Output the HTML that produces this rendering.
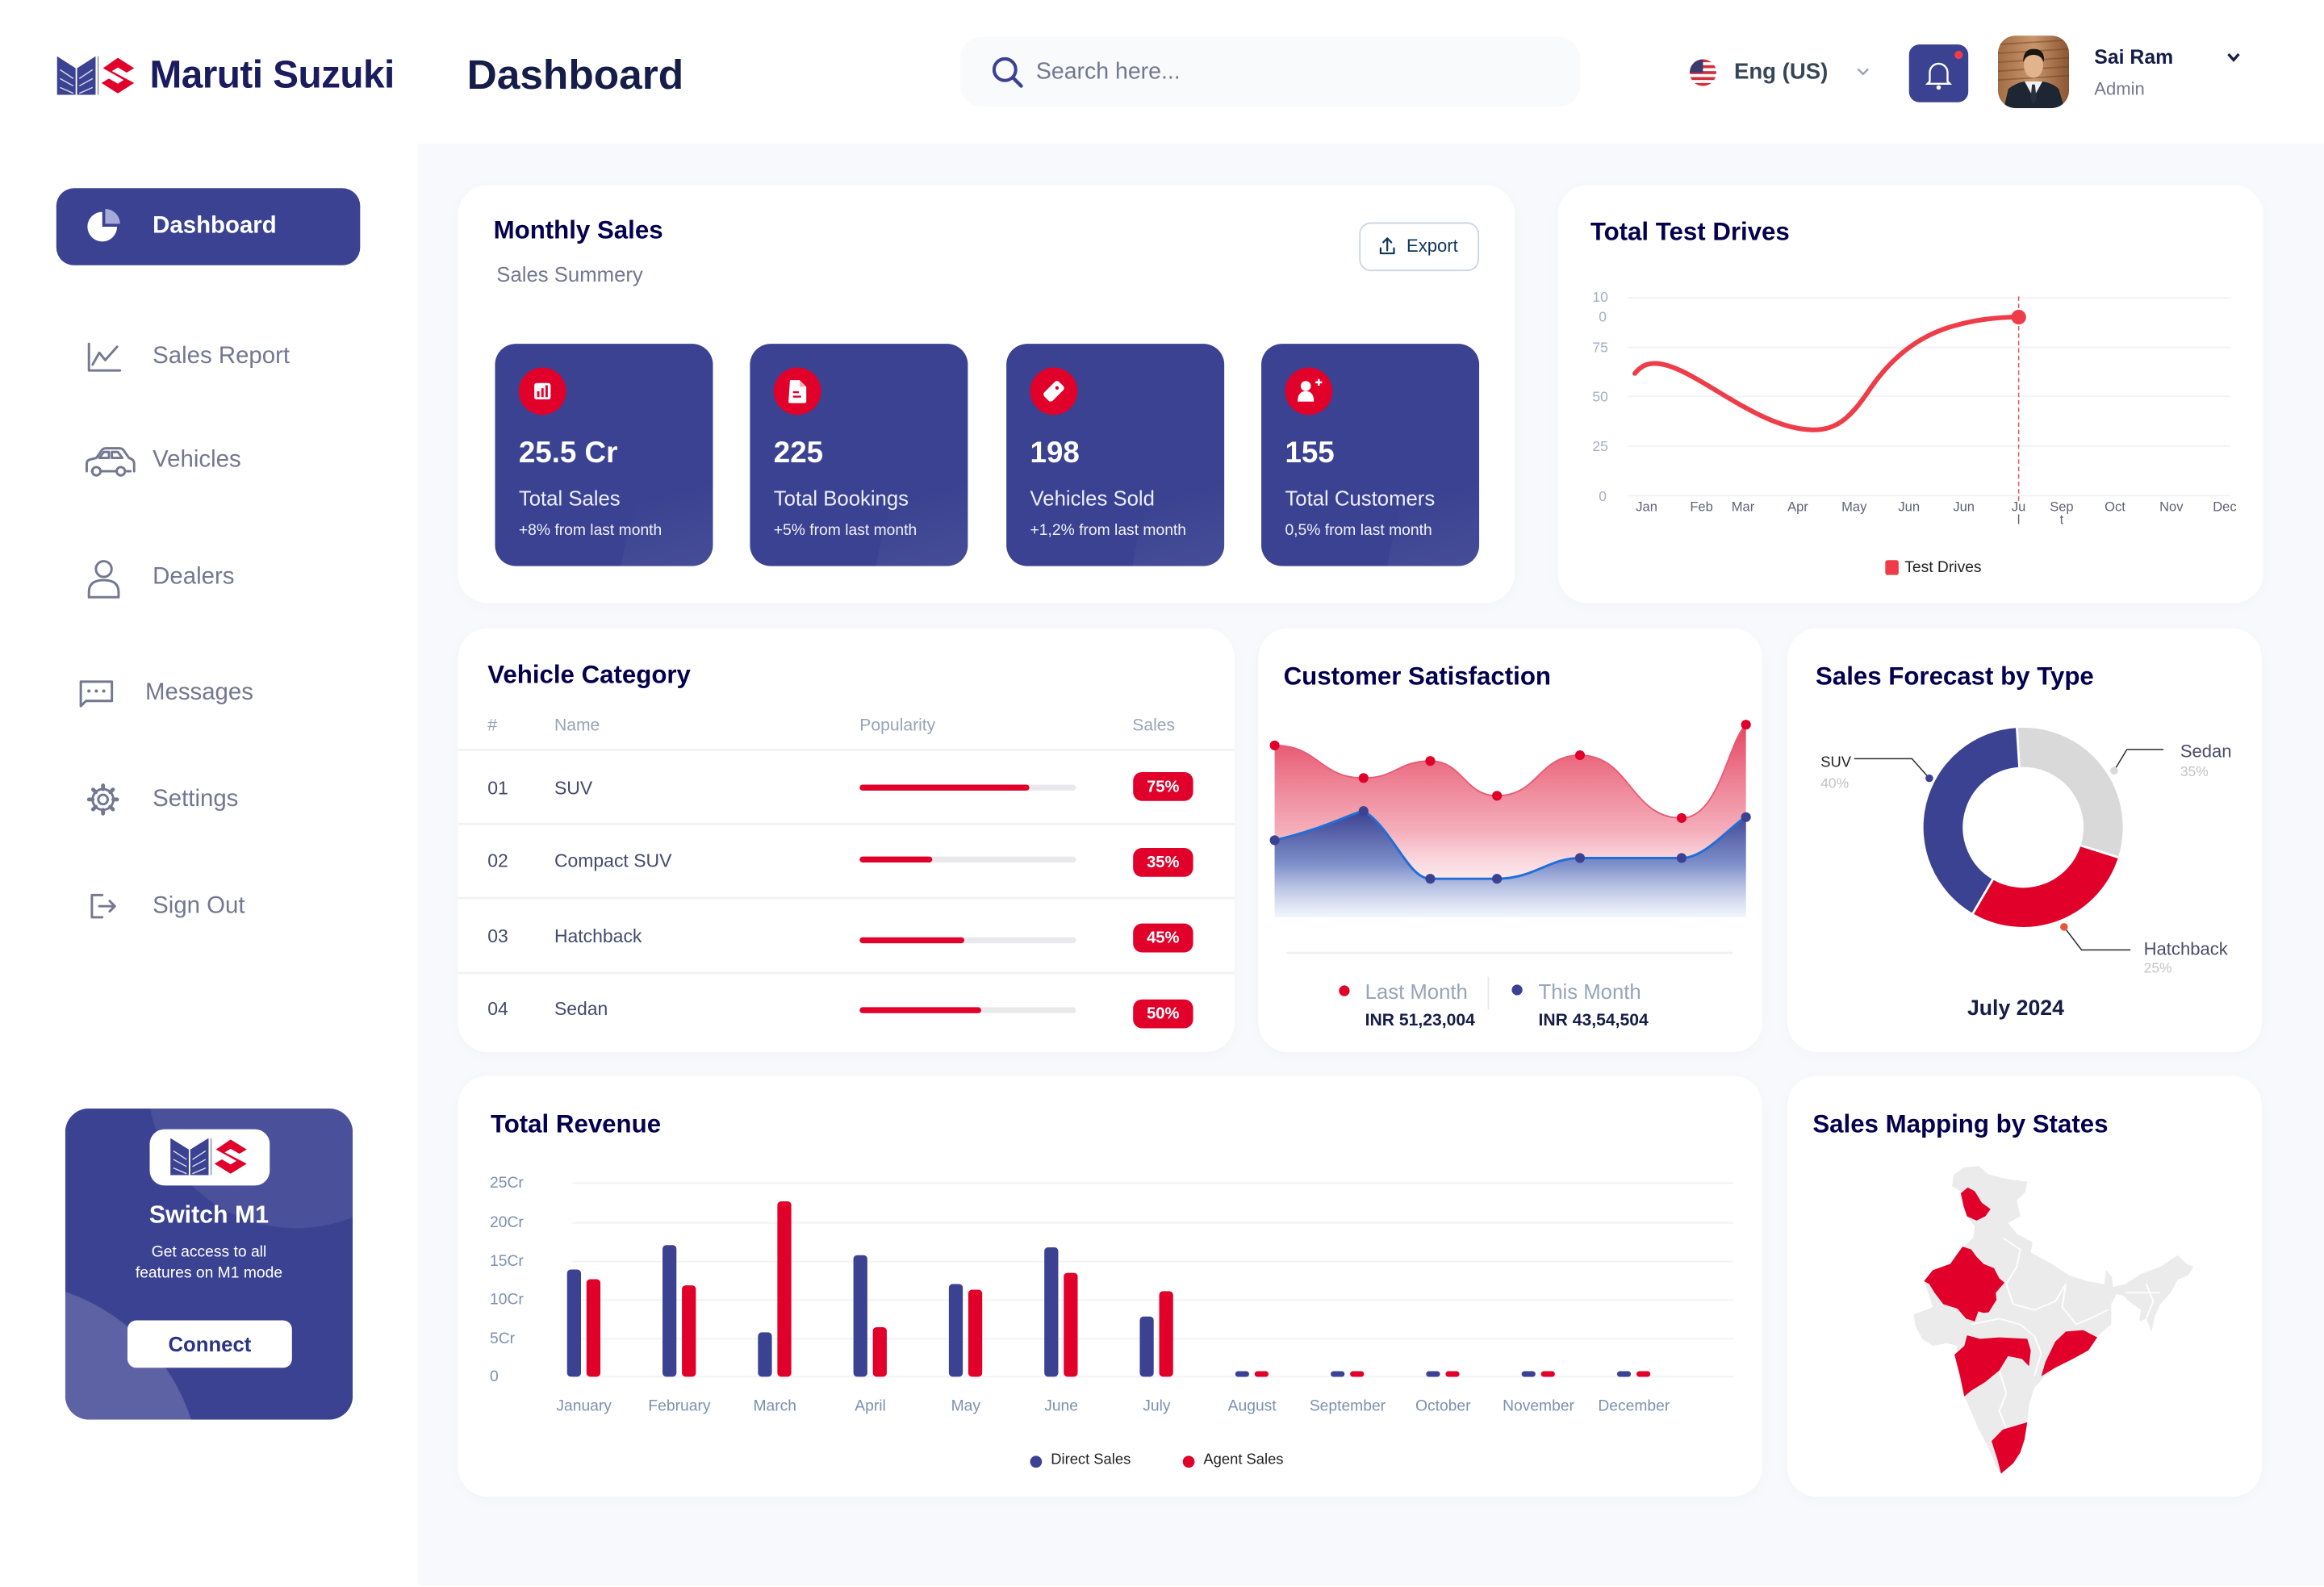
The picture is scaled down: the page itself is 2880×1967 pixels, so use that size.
<!DOCTYPE html>
<html><head><meta charset="utf-8">
<style>
html,body{margin:0;padding:0;width:2880px;height:1967px;overflow:hidden;}
body{background:#fff;font-family:"Liberation Sans",Arial,sans-serif;position:relative;}
#root{position:absolute;left:0;top:0;width:1568px;height:1070.5px;transform:scale(1.836735);transform-origin:0 0;background:#fff;overflow:hidden;}
.abs{position:absolute;}
.t{position:absolute;white-space:nowrap;line-height:20px;height:20px;}
.card{position:absolute;background:#fff;border-radius:20px;box-shadow:0 2px 10px rgba(40,50,90,0.025);}
.stat{position:absolute;top:232px;width:147px;height:150px;border-radius:14px;background:#3b4291;overflow:hidden;}
.stat .deco{position:absolute;left:82px;top:40px;width:170px;height:300px;border-radius:50%;background:linear-gradient(165deg,rgba(255,255,255,0) 20%,rgba(255,255,255,0.12) 55%,rgba(255,255,255,0.26) 95%);}
.title{font-weight:bold;font-size:17px;color:#05004e;}
.side{font-size:16px;color:#737791;}
</style></head>
<body>
<div id="root">
  <div class="abs" style="left:282px;top:97px;width:1286px;height:973px;background:#f7f9fc;"></div>
  <div class="abs" style="left:648px;top:25px;width:418px;height:47px;background:#f9fafb;border-radius:14px;"></div>
  <div class="abs" style="left:38px;top:127px;width:205px;height:52px;background:#3b4291;border-radius:12px;"></div>

  <div class="abs" style="left:44px;top:748px;width:194px;height:210px;border-radius:16px;overflow:hidden;background:radial-gradient(circle 101px at 156px -20px, rgba(255,255,255,0.08) 99.5%, rgba(255,255,255,0) 100%),radial-gradient(circle 136px at -44px 252px, rgba(255,255,255,0.17) 99.5%, rgba(255,255,255,0) 100%),#3b4291;">
    <div class="abs" style="left:57px;top:14px;width:81px;height:38px;background:#fff;border-radius:10px;"></div>
    <div class="abs" style="left:42px;top:143px;width:111px;height:32px;background:#fff;border-radius:6px;"></div>
  </div>

  <div class="card" style="left:309px;top:125px;width:713px;height:282px;"></div>
  <div class="card" style="left:1051px;top:125px;width:476px;height:282px;"></div>
  <div class="card" style="left:309px;top:424px;width:524px;height:286px;"></div>
  <div class="card" style="left:849px;top:424px;width:340px;height:286px;"></div>
  <div class="card" style="left:1206px;top:424px;width:320px;height:286px;"></div>
  <div class="card" style="left:309px;top:726px;width:880px;height:284px;"></div>
  <div class="card" style="left:1206px;top:726px;width:320px;height:284px;"></div>

  <div class="abs" style="left:917px;top:150px;width:79px;height:31px;border:1px solid #c9d6e3;border-radius:8px;"></div>

  <div class="stat" style="left:334px;"><div class="deco"></div></div>
  <div class="stat" style="left:506px;"><div class="deco"></div></div>
  <div class="stat" style="left:679px;"><div class="deco"></div></div>
  <div class="stat" style="left:851px;"><div class="deco"></div></div>

  <svg class="abs" style="left:0;top:0" width="1568" height="1060" viewBox="0 0 1568 1060">
    <defs>
      <linearGradient id="gRed" x1="0" y1="0" x2="0" y2="1">
        <stop offset="0" stop-color="#e23a57" stop-opacity="0.95"/>
        <stop offset="0.55" stop-color="#f08a9c" stop-opacity="0.7"/>
        <stop offset="1" stop-color="#ffffff" stop-opacity="0.2"/>
      </linearGradient>
      <linearGradient id="gBlue" x1="0" y1="0" x2="0" y2="1">
        <stop offset="0" stop-color="#3b4291"/>
        <stop offset="0.5" stop-color="#6f86c8" stop-opacity="0.9"/>
        <stop offset="1" stop-color="#e8f0fb" stop-opacity="0.6"/>
      </linearGradient>
      <linearGradient id="gAv" x1="0" y1="0" x2="1" y2="0">
        <stop offset="0" stop-color="#a26d45"/>
        <stop offset="0.5" stop-color="#c9966c"/>
        <stop offset="1" stop-color="#8a5532"/>
      </linearGradient>
    </defs>

    <g transform="translate(38.5,38)">
      <polygon points="0,0 12.5,8 12.5,26 0,26" fill="#3b4291"/>
      <polygon points="13.5,8 26,0 26,26 13.5,26" fill="#3b4291"/>
      <g stroke="#ffffff" stroke-width="0.8" opacity="0.8">
        <line x1="2" y1="9" x2="11" y2="15"/><line x1="2" y1="15" x2="11" y2="20"/><line x1="2" y1="21" x2="11" y2="25"/>
        <line x1="15" y1="15" x2="24" y2="9"/><line x1="15" y1="20" x2="24" y2="15"/><line x1="15" y1="25" x2="24" y2="21"/>
      </g>
      <line x1="27.7" y1="0" x2="27.7" y2="26" stroke="#8a8fa8" stroke-width="0.8"/>
      <path d="M31,8 L41,1 L52,8 L47,11 L41,7.5 L37,10 L52,18 L41,25 L30,18 L35,15 L41,18.5 L45,16 Z" fill="#e0002a"/>
    </g>

    <circle cx="678" cy="47" r="7.3" fill="none" stroke="#3b4291" stroke-width="2.2"/>
    <line x1="683.5" y1="52.5" x2="689" y2="58" stroke="#3b4291" stroke-width="2.4" stroke-linecap="round"/>

    <clipPath id="fc"><circle cx="1149" cy="49" r="9"/></clipPath>
    <g clip-path="url(#fc)">
      <rect x="1140" y="40" width="18" height="18" fill="#fff"/>
      <rect x="1140" y="40" width="18" height="2" fill="#d22f3c"/>
      <rect x="1140" y="44" width="18" height="2" fill="#d22f3c"/>
      <rect x="1140" y="48" width="18" height="2" fill="#d22f3c"/>
      <rect x="1140" y="52" width="18" height="2" fill="#d22f3c"/>
      <rect x="1140" y="56" width="18" height="2" fill="#d22f3c"/>
      <rect x="1140" y="40" width="9" height="9" fill="#3c3b6e"/>
    </g>
    <polyline points="1253.5,46.5 1257,50 1260.5,46.5" fill="none" stroke="#9aa0b4" stroke-width="1.3"/>

    <rect x="1288" y="30" width="40" height="39" rx="7" fill="#3b4291"/>
    <path d="M1302,55 v-6 a6,6 0 0 1 12,0 v6 l1.5,1.5 h-15 z" fill="none" stroke="#fff" stroke-width="1.3"/>
    <circle cx="1308" cy="59" r="1.5" fill="#fff"/>
    <circle cx="1321.5" cy="37" r="2.8" fill="#ef3b4d"/>

    <clipPath id="avc"><rect x="1348" y="24" width="48" height="49" rx="12"/></clipPath>
    <g clip-path="url(#avc)">
      <rect x="1348" y="24" width="48" height="49" fill="url(#gAv)"/>
      <g stroke="#6b3e22" stroke-width="1" opacity="0.45">
        <line x1="1348" y1="30" x2="1396" y2="27"/><line x1="1348" y1="36" x2="1396" y2="33"/>
        <line x1="1348" y1="42" x2="1396" y2="39"/><line x1="1348" y1="48" x2="1396" y2="45"/>
        <line x1="1348" y1="54" x2="1396" y2="51"/>
      </g>
      <path d="M1352,73 L1355,60 Q1360,56 1366,55 L1378,55 Q1385,56 1389,60 L1393,73 Z" fill="#1e2634"/>
      <path d="M1366,55 L1372,66 L1378,55 Z" fill="#f1f1f1"/>
      <path d="M1371,57 L1373,57 L1374,67 L1372,70 L1370,67 Z" fill="#2a2f3d"/>
      <ellipse cx="1372" cy="44" rx="6.5" ry="8.5" fill="#e2b48e"/>
      <path d="M1365,42 Q1365,33 1372,33 Q1380,33 1379,42 Q1377,37 1372,37 Q1367,37 1365,42 Z" fill="#1d1712"/>
    </g>
    <polyline points="1503.5,36.5 1507,40.5 1510.5,36.5" fill="none" stroke="#151d48" stroke-width="1.8"/>

    <path d="M69,153 V143 A10,10 0 1 0 79,153 Z" fill="#fff"/>
    <path d="M71,151 V141 A10,10 0 0 1 81,151 Z" fill="#a6aadb"/>
    <g fill="none" stroke="#737791" stroke-width="1.6" stroke-linecap="round" stroke-linejoin="round">
      <path d="M60,232 V250 H81"/>
      <path d="M62.5,246 L67,238 L71,243 L79,234"/>
      <path d="M58.5,318 v-5 q0-2.5 2.5-3 l4-1 l3.5-5 q1-1.5 3-1.5 h9 q2 0 3 1.5 l3.5,5 q3.5,1 3.5,4 v5"/>
      <path d="M62,318 h0.5 M68,318 h10 M85.5,318 h2.5"/>
      <circle cx="65" cy="318" r="2.8"/><circle cx="81.5" cy="318" r="2.8"/>
      <path d="M67,309 l3-4 h3.5 v4 z M75.5,305 h4 l3,4 h-7 z"/>
      <circle cx="70" cy="384" r="5.3"/>
      <path d="M60,403 v-3.5 q0-8 10-8 q10,0 10,8 v3.5 z"/>
      <path d="M54.5,460 h21 v13 h-17.5 l-3.5,3.5 z"/>
      <circle cx="69.5" cy="539.5" r="3.2"/>
      <circle cx="69.5" cy="539.5" r="7"/>
      <path d="M69.5,530 v2.5 M69.5,546.5 v2.5 M60,539.5 h2.5 M76.5,539.5 h2.5 M62.8,532.8 l1.8,1.8 M74.4,544.4 l1.8,1.8 M62.8,546.2 l1.8,-1.8 M74.4,534.6 l1.8,-1.8" stroke-width="2.6"/>
      <path d="M69,604 h-7 v15 h7"/>
      <path d="M67,611.5 h10.5 M74,608 l3.5,3.5 l-3.5,3.5"/>
    </g>
    <g fill="#737791"><circle cx="60" cy="466.3" r="1.1"/><circle cx="65" cy="466.3" r="1.1"/><circle cx="70" cy="466.3" r="1.1"/></g>

    <g transform="translate(115,768) scale(0.99,0.96)">
      <polygon points="0,0 12.5,8 12.5,26 0,26" fill="#3b4291"/>
      <polygon points="13.5,8 26,0 26,26 13.5,26" fill="#3b4291"/>
      <g stroke="#ffffff" stroke-width="0.8" opacity="0.8">
        <line x1="2" y1="9" x2="11" y2="15"/><line x1="2" y1="15" x2="11" y2="20"/><line x1="2" y1="21" x2="11" y2="25"/>
        <line x1="15" y1="15" x2="24" y2="9"/><line x1="15" y1="20" x2="24" y2="15"/><line x1="15" y1="25" x2="24" y2="21"/>
      </g>
      <line x1="27.7" y1="0" x2="27.7" y2="26" stroke="#8a8fa8" stroke-width="0.8"/>
      <path d="M31,8 L41,1 L52,8 L47,11 L41,7.5 L37,10 L52,18 L41,25 L30,18 L35,15 L41,18.5 L45,16 Z" fill="#e0002a"/>
    </g>

    <g fill="none" stroke="#0f3659" stroke-width="1.2" stroke-linecap="round" stroke-linejoin="round">
      <path d="M931.5,167.5 v3.5 h9 v-3.5"/>
      <path d="M936,169 v-8 M933.3,163.5 l2.7,-2.7 l2.7,2.7"/>
    </g>

    <circle cx="366" cy="264" r="16" fill="#e0002a"/>
    <rect x="360.5" y="258.5" width="11" height="11" rx="1.5" fill="#fff"/>
    <rect x="362.4" y="264" width="1.6" height="4" fill="#e0002a"/>
    <rect x="365.2" y="262" width="1.6" height="6" fill="#e0002a"/>
    <rect x="368" y="260" width="1.6" height="8" fill="#e0002a"/>

    <circle cx="538" cy="264" r="16" fill="#e0002a"/>
    <path d="M533,256.5 h6.5 l4.5,4.5 v10 q0,1 -1,1 h-10 q-1,0 -1,-1 z" fill="#fff"/>
    <path d="M539.5,256.5 v4.5 h4.5" fill="#f7b0bc"/>
    <rect x="535" y="264" width="4" height="1.3" fill="#e0002a"/>
    <rect x="535" y="267" width="5.5" height="1.3" fill="#e0002a"/>

    <circle cx="711" cy="264" r="16" fill="#e0002a"/>
    <g transform="rotate(45 711 264)">
      <rect x="707" y="257" width="8" height="14" rx="2" fill="#fff"/>
    </g>
    <circle cx="713.2" cy="261.8" r="1.2" fill="#e0002a"/>

    <circle cx="883" cy="264" r="16" fill="#e0002a"/>
    <circle cx="881" cy="260.5" r="3.4" fill="#fff"/>
    <path d="M875.5,271 q0,-7 5.5,-7 q5.5,0 5.5,7 z" fill="#fff"/>
    <path d="M887.5,258 h4.5 M889.75,255.75 v4.5" stroke="#fff" stroke-width="1.4"/>

    <g stroke="#f1f2f5" stroke-width="1">
      <line x1="1098" y1="201" x2="1505" y2="201"/>
      <line x1="1098" y1="234.5" x2="1505" y2="234.5"/>
      <line x1="1098" y1="267.5" x2="1505" y2="267.5"/>
      <line x1="1098" y1="301" x2="1505" y2="301"/>
      <line x1="1098" y1="334.5" x2="1505" y2="334.5"/>
    </g>
    <g font-family="Liberation Sans, Arial, sans-serif" font-size="9.5" fill="#a3aec8" text-anchor="end" dominant-baseline="central">
      <text x="1085" y="200.5">10</text>
      <text x="1084" y="213.6">0</text>
      <text x="1085" y="234.5">75</text>
      <text x="1085" y="267.5">50</text>
      <text x="1085" y="301">25</text>
      <text x="1084" y="334.8">0</text>
    </g>
    <line x1="1362" y1="200" x2="1362" y2="340" stroke="#f0505e" stroke-width="0.8" stroke-dasharray="3 2"/>
    <path d="M1103,252 C1108,246 1113,244.5 1120,245.5 C1145,249 1185,289 1222,290 C1240,291 1250,280 1262,262 C1280,236 1300,225 1318,220 C1335,215 1350,214 1362,214" fill="none" stroke="#ee3d48" stroke-width="3.2" stroke-linecap="round"/>
    <circle cx="1362" cy="214" r="5" fill="#ee3d48"/>
    <g font-family="Liberation Sans, Arial, sans-serif" font-size="9" fill="#5f6375" text-anchor="middle" dominant-baseline="central">
      <text x="1111" y="342">Jan</text><text x="1148" y="342">Feb</text><text x="1176" y="342">Mar</text>
      <text x="1213" y="342">Apr</text><text x="1251" y="342">May</text><text x="1288" y="342">Jun</text>
      <text x="1325" y="342">Jun</text><text x="1362" y="342">Ju</text><text x="1362" y="350.5">l</text>
      <text x="1391" y="342">Sep</text><text x="1391" y="350.5">t</text>
      <text x="1427" y="342">Oct</text><text x="1465" y="342">Nov</text><text x="1501" y="342">Dec</text>
    </g>
    <rect x="1272" y="378" width="9" height="10" rx="1.5" fill="#ee3d48"/>

    <g stroke="#f1f2f4" stroke-width="1.5">
      <line x1="309" y1="506" x2="833" y2="506"/>
      <line x1="309" y1="556" x2="833" y2="556"/>
      <line x1="309" y1="606" x2="833" y2="606"/>
      <line x1="309" y1="656.5" x2="833" y2="656.5"/>
    </g>
    <g>
      <rect x="580" y="529.5" width="146" height="4" rx="2" fill="#e9e9ec"/>
      <rect x="580" y="529.5" width="114.5" height="4" rx="2" fill="#e0002a"/>
      <rect x="580" y="578" width="146" height="4" rx="2" fill="#e9e9ec"/>
      <rect x="580" y="578" width="49" height="4" rx="2" fill="#e0002a"/>
      <rect x="580" y="632.5" width="146" height="4" rx="2" fill="#e9e9ec"/>
      <rect x="580" y="632.5" width="70.6" height="4" rx="2" fill="#e0002a"/>
      <rect x="580" y="679.7" width="146" height="4" rx="2" fill="#e9e9ec"/>
      <rect x="580" y="679.7" width="82" height="4" rx="2" fill="#e0002a"/>
    </g>
    <g fill="#e0002a">
      <rect x="764.5" y="521" width="40.5" height="19.5" rx="6"/>
      <rect x="764.5" y="572.2" width="40.5" height="19.5" rx="6"/>
      <rect x="764.5" y="623.2" width="40.5" height="19.5" rx="6"/>
      <rect x="764.5" y="674.4" width="40.5" height="19.5" rx="6"/>
    </g>
    <g font-family="Liberation Sans, Arial, sans-serif" font-size="11" font-weight="bold" fill="#fff" text-anchor="middle" dominant-baseline="central">
      <text x="784.7" y="531">75%</text><text x="784.7" y="582">35%</text>
      <text x="784.7" y="633">45%</text><text x="784.7" y="684.2">50%</text>
    </g>

    <path d="M860,503 C890,503 890,525 920,525 C942,525 943,513.5 965,513.5 C987,513.5 988,537 1010,537 C1038,537 1038,509.6 1066,509.6 C1100,509.6 1100,552 1134.6,552 C1160,552 1166,500 1178,489 L1178,619 L860,619 Z" fill="url(#gRed)"/>
    <path d="M860,503 C890,503 890,525 920,525 C942,525 943,513.5 965,513.5 C987,513.5 988,537 1010,537 C1038,537 1038,509.6 1066,509.6 C1100,509.6 1100,552 1134.6,552 C1160,552 1166,500 1178,489" fill="none" stroke="#ea5a72" stroke-width="1"/>
    <path d="M860,567 C890,560 905,552 920,547 C940,560 950,593 965,593 L1010,593 C1035,593 1045,579 1066,579 L1134.6,579 C1150,579 1165,560 1178,551 L1178,619 L860,619 Z" fill="url(#gBlue)"/>
    <path d="M860,567 C890,560 905,552 920,547 C940,560 950,593 965,593 L1010,593 C1035,593 1045,579 1066,579 L1134.6,579 C1150,579 1165,560 1178,551" fill="none" stroke="#1f6fd8" stroke-width="1.6"/>
    <g fill="#e0002a">
      <circle cx="860" cy="503" r="3.3"/><circle cx="920" cy="525" r="3.3"/><circle cx="965" cy="513.5" r="3.3"/>
      <circle cx="1010" cy="537" r="3.3"/><circle cx="1066" cy="509.6" r="3.3"/><circle cx="1134.6" cy="552" r="3.3"/>
      <circle cx="1178" cy="489" r="3.3"/>
    </g>
    <g fill="#3b4291">
      <circle cx="860" cy="567" r="3.3"/><circle cx="920" cy="547.3" r="3.3"/><circle cx="965" cy="593" r="3.3"/>
      <circle cx="1010" cy="593" r="3.3"/><circle cx="1066" cy="579" r="3.3"/><circle cx="1134.6" cy="579" r="3.3"/>
      <circle cx="1178" cy="551.4" r="3.3"/>
    </g>
    <line x1="868" y1="643" x2="1169" y2="643" stroke="#eff0f3" stroke-width="1.5"/>
    <circle cx="907" cy="668.6" r="3.6" fill="#e0002a"/>
    <line x1="1004.2" y1="659" x2="1004.2" y2="681" stroke="#e6e8ee" stroke-width="1"/>
    <circle cx="1023.6" cy="668" r="3.6" fill="#3b4291"/>

    <g stroke="#fff" stroke-width="1.5" stroke-linejoin="round">
      <path d="M1360.73,490.43 A68,68 0 0 1 1429.85,578.75 L1403.15,570.33 A40,40 0 0 0 1362.49,518.38 Z" fill="#d9d9d9"/>
      <path d="M1429.85,578.75 A68,68 0 0 1 1330.69,617.01 L1344.82,592.84 A40,40 0 0 0 1403.15,570.33 Z" fill="#e0002a"/>
      <path d="M1330.69,617.01 A68,68 0 0 1 1360.73,490.43 L1362.49,518.38 A40,40 0 0 0 1344.82,592.84 Z" fill="#3b4291"/>
    </g>
    <g fill="none" stroke="#2a2a2a" stroke-width="0.8">
      <polyline points="1251,512 1290,512 1301.7,525.2"/>
      <polyline points="1426.4,520 1435,505.8 1459.7,505.8"/>
      <polyline points="1392.6,625.5 1404.4,641 1437.4,641"/>
    </g>
    <circle cx="1301.7" cy="525.2" r="2.6" fill="#3b4291"/>
    <circle cx="1426.4" cy="520" r="2.6" fill="#d9d9d9"/>
    <circle cx="1392.6" cy="625.5" r="2.6" fill="#e8553a"/>
    <g font-family="Liberation Sans, Arial, sans-serif" dominant-baseline="central">
      <text x="1228.4" y="514" font-size="10" fill="#222">SUV</text>
      <text x="1228.4" y="528.5" font-size="9.5" fill="#c4c4c4">40%</text>
      <text x="1471" y="507" font-size="12" fill="#4a4c6a">Sedan</text>
      <text x="1471" y="520.5" font-size="9.5" fill="#c4c4c4">35%</text>
      <text x="1446.4" y="640.4" font-size="12" fill="#4a4c6a">Hatchback</text>
      <text x="1446.4" y="653.2" font-size="9.5" fill="#c4c4c4">25%</text>
    </g>

    <g stroke="#f1f2f5" stroke-width="1">
      <line x1="385.7" y1="798.4" x2="1169.5" y2="798.4"/>
      <line x1="385.7" y1="825.2" x2="1169.5" y2="825.2"/>
      <line x1="385.7" y1="851.3" x2="1169.5" y2="851.3"/>
      <line x1="385.7" y1="877.2" x2="1169.5" y2="877.2"/>
      <line x1="385.7" y1="903.4" x2="1169.5" y2="903.4"/>
      <line x1="385.7" y1="929" x2="1169.5" y2="929"/>
    </g>
    <g font-family="Liberation Sans, Arial, sans-serif" font-size="10.5" fill="#7b91b0" dominant-baseline="central">
      <text x="330.5" y="798.4">25Cr</text><text x="330.5" y="825.2">20Cr</text>
      <text x="330.5" y="851.3">15Cr</text><text x="330.5" y="877.2">10Cr</text>
      <text x="330.5" y="903.4">5Cr</text><text x="330.5" y="929">0</text>
    </g>
    <g fill="#3b4291">
      <rect x="382.6" y="856.7" width="9.4" height="72.3" rx="2.5"/>
      <rect x="447" y="840.2" width="9.4" height="88.8" rx="2.5"/>
      <rect x="511.4" y="899.1" width="9.4" height="29.9" rx="2.5"/>
      <rect x="575.8" y="847" width="9.4" height="82" rx="2.5"/>
      <rect x="640.2" y="866.5" width="9.4" height="62.5" rx="2.5"/>
      <rect x="704.6" y="841.7" width="9.4" height="87.3" rx="2.5"/>
      <rect x="769" y="888.4" width="9.4" height="40.6" rx="2.5"/>
      <rect x="833.4" y="925.3" width="9.4" height="3.8" rx="1.9"/>
      <rect x="897.8" y="925.3" width="9.4" height="3.8" rx="1.9"/>
      <rect x="962.2" y="925.3" width="9.4" height="3.8" rx="1.9"/>
      <rect x="1026.6" y="925.3" width="9.4" height="3.8" rx="1.9"/>
      <rect x="1091" y="925.3" width="9.4" height="3.8" rx="1.9"/>
    </g>
    <g fill="#e0002a">
      <rect x="395.7" y="863.2" width="9.4" height="65.8" rx="2.5"/>
      <rect x="460.1" y="867.4" width="9.4" height="61.6" rx="2.5"/>
      <rect x="524.5" y="810.7" width="9.4" height="118.3" rx="2.5"/>
      <rect x="588.9" y="895.6" width="9.4" height="33.4" rx="2.5"/>
      <rect x="653.3" y="870.3" width="9.4" height="58.7" rx="2.5"/>
      <rect x="717.7" y="858.9" width="9.4" height="70.1" rx="2.5"/>
      <rect x="782.1" y="871.3" width="9.4" height="57.7" rx="2.5"/>
      <rect x="846.5" y="925.3" width="9.4" height="3.8" rx="1.9"/>
      <rect x="910.9" y="925.3" width="9.4" height="3.8" rx="1.9"/>
      <rect x="975.3" y="925.3" width="9.4" height="3.8" rx="1.9"/>
      <rect x="1039.7" y="925.3" width="9.4" height="3.8" rx="1.9"/>
      <rect x="1104.1" y="925.3" width="9.4" height="3.8" rx="1.9"/>
    </g>
    <g font-family="Liberation Sans, Arial, sans-serif" font-size="10.5" fill="#7b91b0" text-anchor="middle" dominant-baseline="central">
      <text x="394" y="949">January</text><text x="458.4" y="949">February</text><text x="522.8" y="949">March</text>
      <text x="587.2" y="949">April</text><text x="651.6" y="949">May</text><text x="716" y="949">June</text>
      <text x="780.4" y="949">July</text><text x="844.8" y="949">August</text><text x="909.2" y="949">September</text>
      <text x="973.6" y="949">October</text><text x="1038" y="949">November</text><text x="1102.4" y="949">December</text>
    </g>
    <circle cx="699" cy="986.4" r="4" fill="#3b4291"/>
    <circle cx="802" cy="986.4" r="4" fill="#e0002a"/>

    <g transform="translate(1197.8,718.7) scale(0.23611,0.19445)">
      <path d="M510,380 L540,355 L580,350 L610,380 L660,395 L720,405 L715,440 L690,470 L700,525 L665,548 L690,585 L735,615 L730,650 L790,690 L840,730 L890,750 L940,760 L945,712 L962,735 L965,770 L1000,760 L1045,725 L1100,700 L1150,660 L1175,690 L1195,700 L1180,730 L1150,745 L1130,790 L1100,830 L1085,870 L1075,925 L1060,880 L1040,890 L1045,850 L1010,820 L995,800 L975,795 L960,830 L960,900 L930,930 L920,945 L880,990 L830,1030 L770,1080 L740,1120 L725,1180 L720,1240 L705,1320 L680,1380 L645,1418 L630,1390 L610,1330 L580,1260 L555,1190 L540,1150 L525,1080 L515,1010 L520,975 L490,965 L450,975 L420,950 L400,905 L395,865 L430,850 L450,840 L440,800 L425,750 L450,712 L500,690 L530,640 L565,600 L570,560 L545,520 L530,440 L505,420 Z" fill="#ebebeb"/>
      <g fill="none" stroke="#ffffff" stroke-width="5" opacity="0.9">
        <path d="M650,600 L700,640 L690,700 L660,760 L680,830 L740,850 L800,820 L830,760"/>
        <path d="M560,900 L640,880 L700,900 L740,940 L760,1000 L740,1080"/>
        <path d="M640,1060 L660,1140 L640,1200 L660,1260"/>
        <path d="M830,760 L820,840 L860,900 L900,880 L950,850"/>
        <path d="M1060,760 L1080,820 L1060,880 M1000,790 L1100,790"/>
      </g>
      <g fill="#e0002a">
        <path d="M530,445 L550,425 L570,438 L590,478 L615,500 L600,525 L575,540 L548,525 L538,490 Z"/>
        <path d="M535,630 L560,640 L575,665 L595,690 L625,705 L640,740 L655,755 L630,790 L632,815 L610,858 L595,860 L580,855 L570,890 L545,880 L520,845 L480,830 L455,790 L440,760 L425,750 L450,712 L500,690 Z"/>
        <path d="M548,938 L585,950 L640,945 L720,950 L730,990 L725,1045 L705,1020 L665,1010 L640,1060 L600,1100 L560,1130 L540,1150 L528,1080 L512,1005 L540,975 Z"/>
        <path d="M780,1010 L800,960 L830,925 L880,920 L920,945 L895,990 L850,1020 L800,1050 L760,1080 L772,1030 Z"/>
        <path d="M650,1265 L720,1240 L712,1300 L700,1345 L680,1382 L645,1418 L635,1370 L618,1305 L630,1290 Z"/>
      </g>
    </g>
  </svg>

  <div class="t" style="left:101px;top:37px;height:26px;line-height:26px;font-size:26px;font-weight:bold;color:#1b1c5e;letter-spacing:-0.3px;">Maruti Suzuki</div>
  <div class="t" style="left:315px;top:37px;height:28px;line-height:28px;font-size:28px;font-weight:bold;color:#151d48;">Dashboard</div>
  <div class="t" style="left:699px;top:39px;font-size:15.5px;color:#737791;">Search here...</div>
  <div class="t" style="left:1170px;top:39px;font-size:15px;font-weight:bold;color:#374557;">Eng (US)</div>
  <div class="t" style="left:1413px;top:29px;font-size:13.5px;font-weight:bold;color:#151d48;">Sai Ram</div>
  <div class="t" style="left:1413px;top:50px;font-size:12px;color:#737791;">Admin</div>

  <div class="t" style="left:103px;top:143px;font-size:16px;font-weight:bold;color:#fff;">Dashboard</div>
  <div class="t side" style="left:103px;top:231px;">Sales Report</div>
  <div class="t side" style="left:103px;top:301px;">Vehicles</div>
  <div class="t side" style="left:103px;top:380px;">Dealers</div>
  <div class="t side" style="left:98px;top:458px;">Messages</div>
  <div class="t side" style="left:103px;top:530px;">Settings</div>
  <div class="t side" style="left:103px;top:602px;">Sign Out</div>

  <div class="t" style="left:44px;width:194px;text-align:center;top:810px;font-size:16.5px;font-weight:bold;color:#fff;">Switch M1</div>
  <div class="t" style="left:44px;width:194px;text-align:center;top:839px;height:13px;line-height:13px;font-size:10.5px;color:#fff;">Get access to all</div>
  <div class="t" style="left:44px;width:194px;text-align:center;top:852.5px;height:13px;line-height:13px;font-size:10.5px;color:#fff;">features on M1 mode</div>
  <div class="t" style="left:86px;width:111px;text-align:center;top:897px;font-size:14px;font-weight:bold;color:#2b3384;">Connect</div>

  <div class="t title" style="left:333px;top:146px;">Monthly Sales</div>
  <div class="t" style="left:335px;top:175px;font-size:14px;color:#737791;">Sales Summery</div>
  <div class="t" style="left:949px;top:156px;font-size:12px;color:#0f3659;">Export</div>

  <div class="t" style="left:350px;top:295px;height:22px;line-height:22px;font-size:20px;font-weight:bold;color:#fff;">25.5 Cr</div>
  <div class="t" style="left:350px;top:326px;font-size:14px;color:#eceefa;">Total Sales</div>
  <div class="t" style="left:350px;top:348px;font-size:10.5px;color:#f0f1fa;">+8% from last month</div>

  <div class="t" style="left:522px;top:295px;height:22px;line-height:22px;font-size:20px;font-weight:bold;color:#fff;">225</div>
  <div class="t" style="left:522px;top:326px;font-size:14px;color:#eceefa;">Total Bookings</div>
  <div class="t" style="left:522px;top:348px;font-size:10.5px;color:#f0f1fa;">+5% from last month</div>

  <div class="t" style="left:695px;top:295px;height:22px;line-height:22px;font-size:20px;font-weight:bold;color:#fff;">198</div>
  <div class="t" style="left:695px;top:326px;font-size:14px;color:#eceefa;">Vehicles Sold</div>
  <div class="t" style="left:695px;top:348px;font-size:10.5px;color:#f0f1fa;">+1,2% from last month</div>

  <div class="t" style="left:867px;top:295px;height:22px;line-height:22px;font-size:20px;font-weight:bold;color:#fff;">155</div>
  <div class="t" style="left:867px;top:326px;font-size:14px;color:#eceefa;">Total Customers</div>
  <div class="t" style="left:867px;top:348px;font-size:10.5px;color:#f0f1fa;">0,5% from last month</div>

  <div class="t title" style="left:1073px;top:147px;">Total Test Drives</div>
  <div class="t" style="left:1285px;top:373px;font-size:10.5px;color:#222;">Test Drives</div>

  <div class="t title" style="left:329px;top:446px;">Vehicle Category</div>
  <div class="t" style="left:329px;top:480px;font-size:11.5px;color:#96a5b8;">#</div>
  <div class="t" style="left:374px;top:480px;font-size:11.5px;color:#96a5b8;">Name</div>
  <div class="t" style="left:580px;top:480px;font-size:11.5px;color:#96a5b8;">Popularity</div>
  <div class="t" style="left:764px;top:480px;font-size:11.5px;color:#96a5b8;">Sales</div>

  <div class="t" style="left:329px;top:522px;font-size:12.5px;color:#444a6d;">01</div>
  <div class="t" style="left:374px;top:522px;font-size:12.5px;color:#444a6d;">SUV</div>
  <div class="t" style="left:329px;top:571px;font-size:12.5px;color:#444a6d;">02</div>
  <div class="t" style="left:374px;top:571px;font-size:12.5px;color:#444a6d;">Compact SUV</div>
  <div class="t" style="left:329px;top:622px;font-size:12.5px;color:#444a6d;">03</div>
  <div class="t" style="left:374px;top:622px;font-size:12.5px;color:#444a6d;">Hatchback</div>
  <div class="t" style="left:329px;top:671px;font-size:12.5px;color:#444a6d;">04</div>
  <div class="t" style="left:374px;top:671px;font-size:12.5px;color:#444a6d;">Sedan</div>

  <div class="t title" style="left:866px;top:447px;">Customer Satisfaction</div>
  <div class="t" style="left:921px;top:659px;font-size:14px;color:#96a5b8;">Last Month</div>
  <div class="t" style="left:1038px;top:659px;font-size:14px;color:#96a5b8;">This Month</div>
  <div class="t" style="left:921px;top:679px;font-size:11.5px;font-weight:bold;color:#151d48;">INR 51,23,004</div>
  <div class="t" style="left:1038px;top:679px;font-size:11.5px;font-weight:bold;color:#151d48;">INR 43,54,504</div>

  <div class="t title" style="left:1225px;top:447px;">Sales Forecast by Type</div>
  <div class="t" style="left:1300px;width:120px;text-align:center;top:671px;font-size:14.5px;font-weight:bold;color:#151d48;">July 2024</div>

  <div class="t title" style="left:331px;top:749px;">Total Revenue</div>
  <div class="t" style="left:709px;top:976px;font-size:10px;color:#222;">Direct Sales</div>
  <div class="t" style="left:812px;top:976px;font-size:10px;color:#222;">Agent Sales</div>

  <div class="t title" style="left:1223px;top:749px;">Sales Mapping by States</div>
</div>
</body></html>
